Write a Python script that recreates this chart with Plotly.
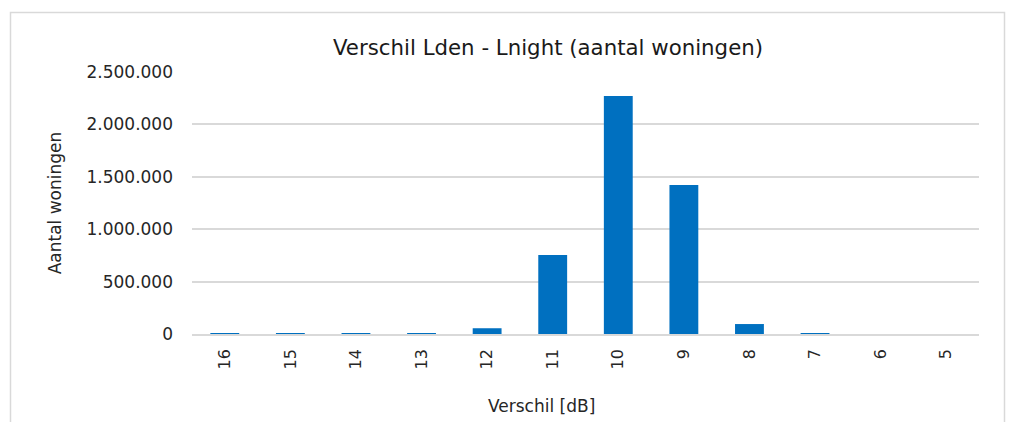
import plotly.graph_objects as go

categories = ["16", "15", "14", "13", "12", "11", "10", "9", "8", "7", "6", "5"]
woningen = [9000, 8000, 8000, 8000, 55000, 755000, 2270000, 1422000, 95000, 8000, 0, 0]
y_ticks = [0, 500000, 1000000, 1500000, 2000000, 2500000]

OFF = 8  # page body margin
W, H = 1014 - 2 * OFF, 430 - 2 * OFF
# target page pixel positions of plot area
left_px, right_px, top_px, bottom_px = 192, 979, 72, 334
ml, mr = left_px - OFF, W - (right_px - OFF)
mt, mb = top_px - OFF, H - (bottom_px - OFF)
pw, ph = W - ml - mr, H - mt - mb

font = "DejaVu Sans, Verdana, sans-serif"

fig = go.Figure(go.Bar(x=categories, y=woningen, marker_color="#0070C0",
                       marker_line_width=0, width=0.44))

def px2paper_x(px):
    return (px - OFF - ml) / pw

def px2paper_y(py):
    return (H - mb - (py - OFF)) / ph

fig.add_shape(type="rect", xref="paper", yref="paper",
              x0=px2paper_x(10.5), x1=px2paper_x(1004.5),
              y0=px2paper_y(450), y1=px2paper_y(12.5),
              line=dict(color="#D9D9D9", width=1.5), layer="below")

fig.add_annotation(text="Verschil [dB]", xref="paper", yref="paper",
                   x=px2paper_x(541), y=px2paper_y(406), xanchor="center", yanchor="middle",
                   showarrow=False, font=dict(size=17, color="#262626", family=font))

fig.update_layout(
    width=W, height=H,
    margin=dict(l=ml, r=mr, t=mt, b=mb),
    paper_bgcolor="white", plot_bgcolor="white",
    separators=",.",
    font=dict(family=font, color="#262626", size=16),
    title=dict(text="Verschil Lden - Lnight (aantal woningen)", xref="paper",
               x=px2paper_x(548), xanchor="center",
               y=1 - (48 - OFF) / H, yanchor="middle",
               font=dict(size=21.3, color="#1a1a1a", family=font)),
    showlegend=False,
    xaxis=dict(type="category", tickangle=-90, showgrid=False, showline=True,
               linecolor="#D9D9D9", linewidth=1.5, ticks="", ticklabelstandoff=7,
               tickfont=dict(size=16, color="#262626")),
    yaxis=dict(range=[0, 2500000], tickvals=y_ticks, tickformat=",d",
               showgrid=True, gridcolor="#D9D9D9", gridwidth=1.5, zeroline=False,
               showline=False, ticks="", ticklabelstandoff=18,
               tickfont=dict(size=17, color="#262626"),
               title=dict(text="Aantal woningen", font=dict(size=17), standoff=20)),
)

fig.write_html("out.html")
